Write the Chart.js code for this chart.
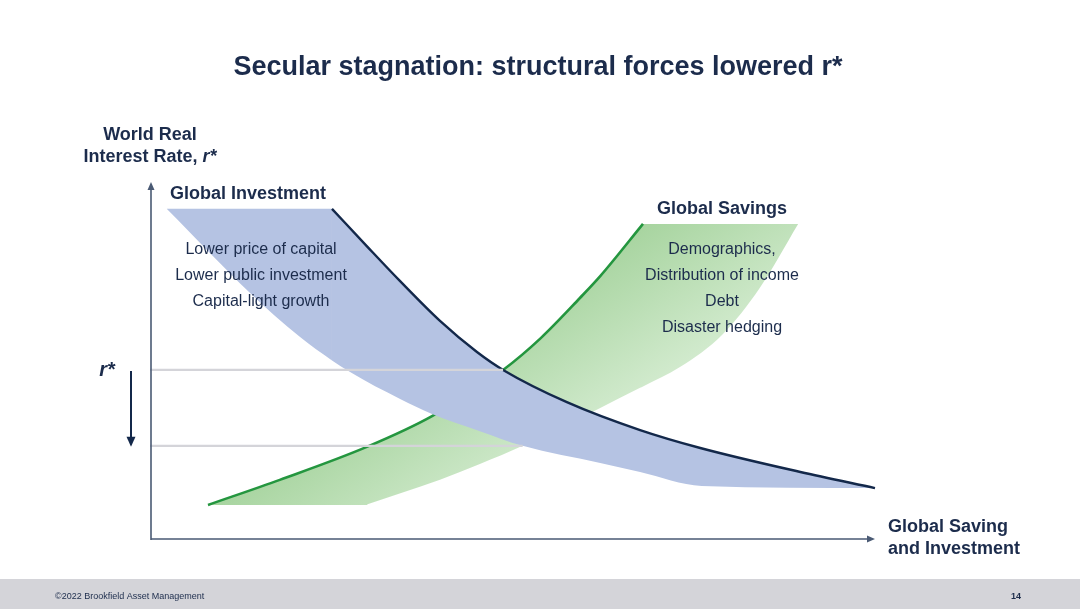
<!DOCTYPE html>
<html>
<head>
<meta charset="utf-8">
<script src="https://cdn.jsdelivr.net/npm/chart.js@4.4.1/dist/chart.umd.min.js"></script>
<style>
  html, body { margin: 0; padding: 0; background: #fff; }
  #wrap { position: relative; width: 1080px; height: 609px; }
</style>
</head>
<body>
<div id="wrap"><canvas id="chart"></canvas></div>
<script>
// x = global saving & investment, y = world real interest rate (both 0..100, schematic)
// Global investment band
const invFlatX  = [2.3, 25.1];
const invFlatY  = [92.5, 92.5];
const invCurveX = [25.1, 29.9, 34.5, 40.0, 45.1, 48.7, 57.5, 67.6, 75.9, 89.7, 100];
const invCurveY = [92.5, 82.1, 72.3, 61.2, 52.5, 47.5, 38.5, 30.7, 25.7, 19.0, 14.5];
const invLowX   = [2.3, 13.8, 20.7, 27.6, 34.5, 38.9, 45.5, 51.4, 62.1, 67.6, 76.1, 100];
const invLowY   = [92.5, 69.0, 56.7, 46.9, 39.4, 35.2, 30.4, 26.3, 21.5, 19.0, 15.1, 14.5];

// Global savings band
const savLineX     = [8.0, 17.9, 29.9, 38.9, 48.7, 53.9, 59.3, 62.1, 68.0];
const savLineY     = [9.8, 16.8, 26.0, 34.6, 47.5, 56.4, 67.6, 73.7, 88.3];
const savTopX      = [68.0, 89.4];
const savTopY      = [88.3, 88.3];
const savLowFlatX  = [8.0, 30.0];
const savLowFlatY  = [9.8, 9.8];
const savLowCurveX = [29.7, 40.0, 45.5, 51.4, 62.1, 67.6, 73.1, 79.0, 84.1, 89.4];
const savLowCurveY = [9.8, 16.8, 21.2, 26.3, 36.9, 42.5, 48.3, 57.5, 70.4, 88.3];

// r* before / after guide lines
const rStarX = [0, 48.7, 0, 51.4];
const rStarY = [47.5, 26.3];

const investmentNotes = ['Lower price of capital', 'Lower public investment', 'Capital-light growth'];
const savingsNotes    = ['Demographics,', 'Distribution of income', 'Debt', 'Disaster hedging'];

const NAVY  = '#13284a';
const TEXT  = '#1c2c4c';
const BLUE  = '#b5c3e3';
const GREEN = '#24963f';
const GRAY  = '#d4d4d9';
const AXIS  = '#4a5a74';

const pts = (xs, ys) => xs.map((x, i) => ({ x, y: ys[i] }));

function savGradient(chart) {
  const { ctx, scales } = chart;
  if (!scales.x || !chart.chartArea) return '#bfe0ba';
  const g = ctx.createLinearGradient(
    scales.x.getPixelForValue(45.1), scales.y.getPixelForValue(58.4),
    scales.x.getPixelForValue(56.1), scales.y.getPixelForValue(24.0)
  );
  g.addColorStop(0, '#a7d49f');
  g.addColorStop(1, '#d3ebcf');
  return g;
}

function text(ctx, str, x, y, font, align = 'center', color = TEXT) {
  ctx.font = font;
  ctx.fillStyle = color;
  ctx.textAlign = align;
  ctx.textBaseline = 'middle';
  ctx.fillText(str, x, y);
}

const decor = {
  id: 'decor',
  beforeDraw(chart) {
    const c = chart.ctx;
    c.save();
    c.fillStyle = '#d4d4d9';
    c.fillRect(0, 579, chart.width, chart.height - 579);
    c.restore();
  },
  afterDatasetsDraw(chart) {
    const c = chart.ctx;
    const { left, right, top, bottom } = chart.chartArea;
    const ys = chart.scales.y;
    c.save();

    // axes with arrow heads
    c.strokeStyle = AXIS;
    c.fillStyle = AXIS;
    c.lineWidth = 1.6;
    c.beginPath();
    c.moveTo(left + 1, bottom); c.lineTo(left + 1, top + 6);
    c.moveTo(left + 1, bottom - 1); c.lineTo(right - 6, bottom - 1);
    c.stroke();
    c.beginPath();
    c.moveTo(left + 1, top); c.lineTo(left - 2.5, top + 8); c.lineTo(left + 4.5, top + 8); c.closePath();
    c.moveTo(right, bottom - 1); c.lineTo(right - 8, bottom - 4.5); c.lineTo(right - 8, bottom + 2.5); c.closePath();
    c.fill();

    // r* shift arrow
    const y1 = ys.getPixelForValue(rStarY[0]);
    const y2 = ys.getPixelForValue(rStarY[1]);
    c.strokeStyle = NAVY;
    c.fillStyle = NAVY;
    c.lineWidth = 2;
    c.beginPath();
    c.moveTo(131, y1 + 1); c.lineTo(131, y2 - 8);
    c.stroke();
    c.beginPath();
    c.moveTo(131, y2 + 1); c.lineTo(126.5, y2 - 9); c.lineTo(135.5, y2 - 9); c.closePath();
    c.fill();
    text(c, 'r*', 107, y1 + 1, 'italic bold 20px "Liberation Sans", Arial, sans-serif');

    // titles and labels
    text(c, 'Secular stagnation: structural forces lowered r*', 538, 68, 'bold 27px "Liberation Sans", Arial, sans-serif');
    text(c, 'World Real', 150, 135, 'bold 18px "Liberation Sans", Arial, sans-serif');
    c.font = 'bold 18px "Liberation Sans", Arial, sans-serif';
    const w1 = c.measureText('Interest Rate, ').width;
    c.font = 'italic bold 18px "Liberation Sans", Arial, sans-serif';
    const w2 = c.measureText('r*').width;
    const sx = 150 - (w1 + w2) / 2;
    text(c, 'Interest Rate, ', sx, 157, 'bold 18px "Liberation Sans", Arial, sans-serif', 'left');
    text(c, 'r*', sx + w1, 157, 'italic bold 18px "Liberation Sans", Arial, sans-serif', 'left');

    text(c, 'Global Investment', 170, 194, 'bold 18px "Liberation Sans", Arial, sans-serif', 'left');
    investmentNotes.forEach((s, i) =>
      text(c, s, 261, 250 + i * 26, '16px "Liberation Sans", Arial, sans-serif'));
    text(c, 'Global Savings', 722, 209, 'bold 18px "Liberation Sans", Arial, sans-serif');
    savingsNotes.forEach((s, i) =>
      text(c, s, 722, 250 + i * 26, '16px "Liberation Sans", Arial, sans-serif'));

    text(c, 'Global Saving', 888, 527, 'bold 18px "Liberation Sans", Arial, sans-serif', 'left');
    text(c, 'and Investment', 888, 549, 'bold 18px "Liberation Sans", Arial, sans-serif', 'left');

    // footer
    text(c, '\u00a92022 Brookfield Asset Management', 55, 597, '9px "Liberation Sans", Arial, sans-serif', 'left');
    text(c, '14', 1016, 597, 'bold 9px "Liberation Sans", Arial, sans-serif');
    c.restore();
  }
};

const common = { pointRadius: 0, borderWidth: 0, clip: false, tension: 0.4, cubicInterpolationMode: 'monotone' };

new Chart(document.getElementById('chart'), {
  type: 'line',
  data: {
    datasets: [
      { ...common, label: 'r* before', data: [{ x: rStarX[0], y: rStarY[0] }, { x: rStarX[1], y: rStarY[0] }],
        borderColor: GRAY, borderWidth: 2.2, fill: false, order: 0, tension: 0 },
      { ...common, label: 'r* after', data: [{ x: rStarX[2], y: rStarY[1] }, { x: rStarX[3], y: rStarY[1] }],
        borderColor: GRAY, borderWidth: 2.2, fill: false, order: 0, tension: 0 },
      { ...common, label: 'Global Investment', data: pts(invCurveX, invCurveY),
        borderColor: NAVY, borderWidth: 2.4, backgroundColor: BLUE, fill: 4, order: 1 },
      { ...common, label: 'inv top', data: pts(invFlatX, invFlatY),
        borderColor: 'rgba(0,0,0,0)', backgroundColor: BLUE, fill: 4, order: 2 },
      { ...common, label: 'inv low', data: pts(invLowX, invLowY),
        borderColor: 'rgba(0,0,0,0)', fill: false, order: 3 },
      { ...common, label: 'Global Savings', data: pts(savLineX, savLineY),
        borderColor: GREEN, borderWidth: 2.6, fill: false, order: 4 },
      { ...common, label: 'sav top', data: pts(savTopX, savTopY),
        borderColor: 'rgba(0,0,0,0)', backgroundColor: c => savGradient(c.chart), fill: 7, order: 5 },
      { ...common, label: 'sav low', data: pts(savLowCurveX, savLowCurveY),
        borderColor: 'rgba(0,0,0,0)', backgroundColor: c => savGradient(c.chart), fill: 5, order: 6 },
      { ...common, label: 'sav low flat', data: pts(savLowFlatX, savLowFlatY),
        borderColor: 'rgba(0,0,0,0)', backgroundColor: c => savGradient(c.chart), fill: 5, order: 7 }
    ]
  },
  options: {
    responsive: true,
    maintainAspectRatio: false,
    animation: false,
    layout: { padding: { left: 150, right: 205, top: 182, bottom: 69 } },
    scales: {
      x: { type: 'linear', min: 0, max: 100, display: false },
      y: { type: 'linear', min: 0, max: 100, display: false }
    },
    plugins: {
      legend: { display: false },
      tooltip: { enabled: false },
      filler: { propagate: false }
    }
  },
  plugins: [decor]
});
</script>
</body>
</html>
